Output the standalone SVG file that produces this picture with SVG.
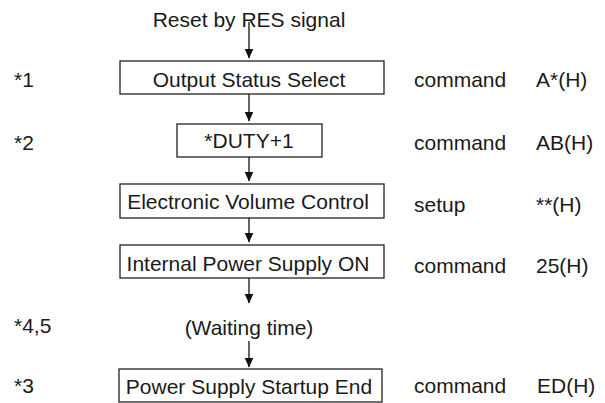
<svg xmlns="http://www.w3.org/2000/svg" width="605" height="403" viewBox="0 0 605 403">
<style>
text{font-family:"Liberation Sans",Arial,sans-serif;font-size:21px;fill:#1a1a1a}
.c{text-anchor:middle}
.box{fill:#fff;stroke:#222;stroke-width:1.3}
.ln{stroke:#111;stroke-width:1.3;fill:none}
</style>
<defs>
<marker id="ah" markerUnits="userSpaceOnUse" markerWidth="10" markerHeight="13" refX="9.5" refY="4.5" orient="auto" viewBox="0 0 10 9">
<path d="M0,0 L10,4.5 L0,9 Z" fill="#111"/>
</marker>
</defs>
<g id="connectors">
<line class="ln" x1="249" y1="22" x2="249" y2="58" marker-end="url(#ah)"/>
<line class="ln" x1="249" y1="94" x2="249" y2="121" marker-end="url(#ah)"/>
<line class="ln" x1="249" y1="157" x2="249" y2="181" marker-end="url(#ah)"/>
<line class="ln" x1="249" y1="218" x2="249" y2="242" marker-end="url(#ah)"/>
<line class="ln" x1="249" y1="278" x2="249" y2="303" marker-end="url(#ah)"/>
<line class="ln" x1="249" y1="341" x2="249" y2="367" marker-end="url(#ah)"/>
</g>
<g id="start"><text class="c" x="249" y="27">Reset by RES signal</text></g>
<g id="n1">
<rect class="box" x="120" y="61" width="264" height="33"/>
<text class="c" x="249" y="87">Output Status Select</text>
<text x="14" y="87">*1</text>
<text x="414" y="87">command</text>
<text x="536" y="87">A*(H)</text>
</g>
<g id="n2">
<rect class="box" x="177" y="124" width="145" height="33"/>
<text class="c" x="249" y="148">*DUTY+1</text>
<text x="14" y="150">*2</text>
<text x="414" y="150">command</text>
<text x="536" y="150">AB(H)</text>
</g>
<g id="n3">
<rect class="box" x="120" y="184" width="264" height="34"/>
<text class="c" x="248" y="209">Electronic Volume Control</text>
<text x="414" y="212">setup</text>
<text x="536" y="212">**(H)</text>
</g>
<g id="n4">
<rect class="box" x="120" y="245" width="264" height="33"/>
<text class="c" x="248" y="271">Internal Power Supply ON</text>
<text x="414" y="273">command</text>
<text x="536" y="273">25(H)</text>
</g>
<g id="wait">
<text class="c" x="249" y="335">(Waiting time)</text>
<text x="14" y="333">*4,5</text>
</g>
<g id="n5">
<rect class="box" x="119" y="369" width="263" height="33"/>
<text class="c" x="249" y="394">Power Supply Startup End</text>
<text x="14" y="393">*3</text>
<text x="414" y="393">command</text>
<text x="537" y="393">ED(H)</text>
</g>
</svg>
